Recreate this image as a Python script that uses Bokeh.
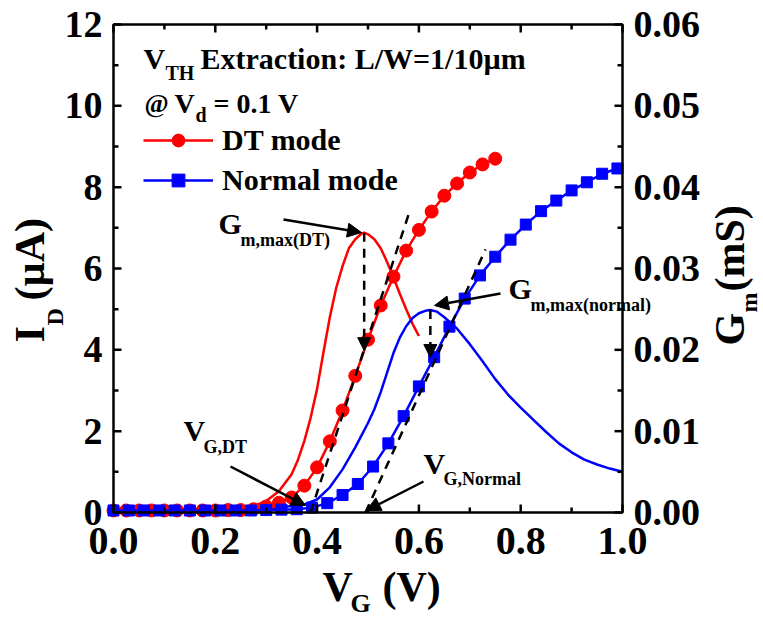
from math import pi

from bokeh.plotting import figure
from bokeh.core.properties import value
from bokeh.models import Range1d, Label, Arrow, NormalHead, Legend, LegendItem
from bokeh.embed import file_html
from bokeh.resources import INLINE

FONT = "Liberation Serif"
CAP = 0.331   # half the cap height of the font, in em

# ---- I_D - V_G transfer data (uA) ----
vg_dt = [0.000, 0.025, 0.050, 0.075, 0.100, 0.125, 0.150, 0.175, 0.200, 0.225,
         0.250, 0.275, 0.300, 0.325, 0.350, 0.375, 0.400, 0.425, 0.450, 0.475,
         0.500, 0.525, 0.550, 0.575, 0.600, 0.625, 0.650, 0.675, 0.700, 0.725, 0.750]
id_dt = [0.05, 0.05, 0.05, 0.05, 0.05, 0.05, 0.05, 0.05, 0.05, 0.06,
         0.06, 0.08, 0.15, 0.24, 0.37, 0.66, 1.11, 1.75, 2.51, 3.36,
         4.25, 5.09, 5.80, 6.44, 6.95, 7.40, 7.79, 8.09, 8.36, 8.56, 8.70]

vg_nm = [0.00, 0.03, 0.06, 0.09, 0.12, 0.15, 0.18, 0.21, 0.24, 0.27,
         0.30, 0.33, 0.36, 0.39, 0.42, 0.45, 0.48, 0.51, 0.54, 0.57,
         0.60, 0.63, 0.66, 0.69, 0.72, 0.75, 0.78, 0.81, 0.84, 0.87,
         0.90, 0.93, 0.96, 0.99]
id_nm = [0.05, 0.05, 0.05, 0.05, 0.05, 0.05, 0.05, 0.05, 0.05, 0.05,
         0.06, 0.07, 0.08, 0.12, 0.23, 0.43, 0.70, 1.13, 1.70, 2.37,
         3.10, 3.82, 4.57, 5.26, 5.83, 6.29, 6.71, 7.08, 7.41, 7.67,
         7.92, 8.12, 8.33, 8.46]

# ---- transconductance (mS) ----
vg_gm_dt = [0.00, 0.05, 0.10, 0.15, 0.20, 0.225, 0.25, 0.275, 0.30, 0.325,
            0.35, 0.3625, 0.375, 0.3875, 0.40, 0.4125, 0.425, 0.4375, 0.45, 0.4625,
            0.475, 0.4875, 0.4925, 0.50, 0.5125, 0.525, 0.5375, 0.55, 0.5625, 0.575,
            0.5875, 0.60]
gm_dt = [0.0002, 0.0002, 0.0002, 0.0002, 0.0003, 0.0004, 0.0005, 0.0008, 0.0014, 0.0026,
         0.0047, 0.0065, 0.0088, 0.0117, 0.0152, 0.0197, 0.0240, 0.0276, 0.0303, 0.0325,
         0.0336, 0.0343, 0.0344, 0.0342, 0.0336, 0.0325, 0.0308, 0.0289, 0.0269, 0.0250,
         0.0232, 0.0217]

vg_gm_nm = [0.00, 0.10, 0.20, 0.25, 0.30, 0.325, 0.35, 0.375, 0.40, 0.425,
            0.45, 0.475, 0.50, 0.5125, 0.525, 0.5375, 0.55, 0.5625, 0.575, 0.5875,
            0.60, 0.6125, 0.6225, 0.635, 0.65, 0.6625, 0.675, 0.70, 0.725, 0.75,
            0.775, 0.80, 0.825, 0.85, 0.875, 0.90, 0.925, 0.95, 0.975, 1.00]
gm_nm = [0.0002, 0.0002, 0.0003, 0.0003, 0.0004, 0.0006, 0.0008, 0.0010, 0.0016, 0.0031,
         0.0053, 0.0080, 0.0110, 0.0127, 0.0148, 0.0172, 0.0196, 0.0215, 0.0229, 0.0239,
         0.0245, 0.0248, 0.0249, 0.0247, 0.0240, 0.0233, 0.0226, 0.0207, 0.0186, 0.0164,
         0.0145, 0.0129, 0.0114, 0.0099, 0.0085, 0.0074, 0.0065, 0.0059, 0.0054, 0.0050]

# ---- linear-extrapolation tangents at Gm,max (V, uA) ----
dt_tan_v = [0.387, 0.583]
dt_tan_i = [0.0, 7.45]
nm_tan_v = [0.495, 0.731]
nm_tan_i = [0.0, 6.47]
# drain current where each Gm,max drop line meets its I_D curve
dt_drop_i = 3.98
nm_drop_i = 3.81

# ---- axes ----
x_ticks = [0.0, 0.2, 0.4, 0.6, 0.8, 1.0]
x_minor = [0.1, 0.3, 0.5, 0.7, 0.9]
id_ticks = [0, 2, 4, 6, 8, 10, 12]
id_minor = [1, 3, 5, 7, 9, 11]
gm_ticks = [0.00, 0.01, 0.02, 0.03, 0.04, 0.05, 0.06]
gm_minor = [0.005, 0.015, 0.025, 0.035, 0.045, 0.055]

X_LO, X_HI = 0.0, 1.0
ID_LO, ID_HI = 0.0, 12.0
GM_LO, GM_HI = 0.0, 0.06
GM_TO_ID = ID_HI / GM_HI

# canvas and the pixel box that holds the data area
W, H = 763, 618
PX_L, PX_R, PX_T, PX_B = 113, 622, 24, 512
KX = (PX_R - PX_L) / (X_HI - X_LO)       # px per volt
KY = (PX_B - PX_T) / (ID_HI - ID_LO)     # px per uA
KG = (PX_B - PX_T) / (GM_HI - GM_LO)     # px per mS

# the plotting frame spans the whole canvas so that titles around the
# data box are drawn as ordinary in-frame text
p = figure(width=W, height=H, output_backend="svg", toolbar_location=None,
           x_axis_location=None, y_axis_location=None,
           x_range=Range1d(X_LO - PX_L / KX, X_LO + (W - PX_L) / KX),
           y_range=Range1d(ID_LO - (H - PX_B) / KY, ID_LO + PX_B / KY),
           min_border=0)
p.title = None
p.extra_y_ranges = {"gm": Range1d(GM_LO - (H - PX_B) / KG, GM_LO + PX_B / KG)}
p.grid.visible = False
p.outline_line_color = None
p.background_fill_color = "white"
p.border_fill_color = "white"

AX_W = 2.5
MAJ, MIN = 8, 5     # inward tick lengths, px

# ---- curves ----
p.line(vg_gm_dt, gm_dt, y_range_name="gm", line_color="#FF0000", line_width=2.5)
p.line(vg_gm_nm, gm_nm, y_range_name="gm", line_color="#0000FF", line_width=2.5)

dt_line = p.line(vg_dt, id_dt, line_color="#FF0000", line_width=2.5)
dt_pts = p.scatter(vg_dt, id_dt, marker="circle", size=13,
                   fill_color="#FF0000", line_color="#FF0000")
nm_line = p.line(vg_nm, id_nm, line_color="#0000FF", line_width=2.5)
nm_pts = p.scatter(vg_nm, id_nm, marker="square", size=11,
                   fill_color="#0000FF", line_color="#0000FF")

p.line(dt_tan_v, dt_tan_i, line_color="black", line_width=2.5, line_dash="9 7")
p.line(nm_tan_v, nm_tan_i, line_color="black", line_width=2.5, line_dash="9 7")

# ---- axis box, ticks and tick labels ----
p.quad(left=[X_LO], right=[X_HI], bottom=[ID_LO], top=[ID_HI],
       fill_color=None, line_color="black", line_width=AX_W)

for ticks, ln in ((x_ticks, MAJ), (x_minor, MIN)):
    n = len(ticks)
    p.segment(x0=ticks, y0=[ID_LO] * n, x1=ticks, y1=[ID_LO + ln / KY] * n,
              line_color="black", line_width=AX_W)
    p.segment(x0=ticks, y0=[ID_HI] * n, x1=ticks, y1=[ID_HI - ln / KY] * n,
              line_color="black", line_width=AX_W)
for ticks, ln in ((id_ticks, MAJ), (id_minor, MIN)):
    n = len(ticks)
    p.segment(x0=[X_LO] * n, y0=ticks, x1=[X_LO + ln / KX] * n, y1=ticks,
              line_color="black", line_width=AX_W)
for ticks, ln in ((gm_ticks, MAJ), (gm_minor, MIN)):
    n = len(ticks)
    p.segment(x0=[X_HI] * n, y0=ticks, x1=[X_HI - ln / KX] * n, y1=ticks,
              y_range_name="gm", line_color="black", line_width=AX_W)

tick_font = dict(text_font=value(FONT), text_font_style="bold", text_color="black",
                 text_baseline="middle")
p.text(x=x_ticks, y=[ID_LO] * len(x_ticks), text=[f"{t:.1f}" for t in x_ticks],
       y_offset=42 - CAP * 40, text_align="center", text_font_size="40px", **tick_font)
p.text(x=[X_LO] * len(id_ticks), y=id_ticks, text=[f"{t:g}" for t in id_ticks],
       x_offset=-11, y_offset=0, text_align="right", text_font_size="38px", **tick_font)
p.text(x=[X_HI] * len(gm_ticks), y=gm_ticks, text=[f"{t:.2f}" for t in gm_ticks],
       y_range_name="gm", x_offset=11, y_offset=0, text_align="left",
       text_font_size="38px", **tick_font)

# drop lines from each Gm peak down to the I_D curve
for gv, gm, drop in ((vg_gm_dt, gm_dt, dt_drop_i), (vg_gm_nm, gm_nm, nm_drop_i)):
    k = gm.index(max(gm))
    p.add_layout(Arrow(end=NormalHead(size=13, fill_color="black", line_color="black", line_width=1),
                       x_start=gv[k], y_start=gm[k] * GM_TO_ID, x_end=gv[k], y_end=drop,
                       line_color="black", line_width=2.5, line_dash="9 7"))


# pixel -> data helpers for annotation placement
def dx(px):
    return X_LO + (px - PX_L) / KX


def dy(py):
    return ID_LO + (PX_B - py) / KY


def pointer(x0, y0, x1, y1):
    p.add_layout(Arrow(end=NormalHead(size=14, fill_color="black", line_color="black", line_width=1),
                       x_start=dx(x0), y_start=dy(y0), x_end=dx(x1), y_end=dy(y1),
                       line_color="black", line_width=2.5))


pointer(283, 219, 361, 232)    # Gm,max(DT)
pointer(500, 293, 434, 305)    # Gm,max(normal)
pointer(230, 466, 305, 505)    # V_G,DT
pointer(423, 481, 366, 510)    # V_G,Normal


def text(t, px, py, size, angle=0.0):
    """Bold label whose baseline starts at pixel (px, py); rotated labels read upward."""
    if angle:
        px -= CAP * size
    else:
        py -= CAP * size
    p.add_layout(Label(x=dx(px), y=dy(py), text=t, angle=angle,
                       text_font=FONT, text_font_style="bold",
                       text_font_size=f"{size}px", text_color="black",
                       text_align="left", text_baseline="middle"))


# header
text("V", 143, 68, 30)
text("TH", 165, 79, 20)
text("Extraction: L/W=1/10µm", 200, 68, 30)
text("@", 144, 112, 26)
text("V", 174, 112, 28)
text("d", 195, 121, 20)
text("= 0.1 V", 213, 112, 28)

# annotations
text("G", 218, 233, 30)
text("m,max(DT)", 240, 245, 18)
text("G", 508, 298, 30)
text("m,max(normal)", 530, 310, 18)
text("V", 183, 440, 30)
text("G,DT", 203, 452, 18)
text("V", 423, 473, 30)
text("G,Normal", 443, 484, 18)

# axis titles
text("V", 322, 600, 42)
text("G", 350, 612, 26)
text("(V)", 382, 600, 42)

text("I", 43, 342, 42, pi / 2)
text("D", 62, 325, 24, pi / 2)
text("(µA)", 43, 300, 42, pi / 2)

text("G", 743, 345, 42, pi / 2)
text("m", 756, 312, 24, pi / 2)
text("(mS)", 743, 291, 42, pi / 2)

# legend: rows centred 140 px and 180 px from the top, keys starting at x = 143 px
legend = Legend(items=[LegendItem(label="DT mode", renderers=[dt_line, dt_pts]),
                       LegendItem(label="Normal mode", renderers=[nm_line, nm_pts])],
                location=(143, H - 120 - 80), padding=0, margin=0, spacing=0,
                glyph_width=70, glyph_height=32, label_height=40, label_standoff=9,
                border_line_alpha=0, background_fill_alpha=0,
                label_text_font=FONT, label_text_font_style="bold",
                label_text_font_size="30px", label_text_color="black")
p.add_layout(legend)

open("out.html", "w").write(file_html(p, INLINE))
